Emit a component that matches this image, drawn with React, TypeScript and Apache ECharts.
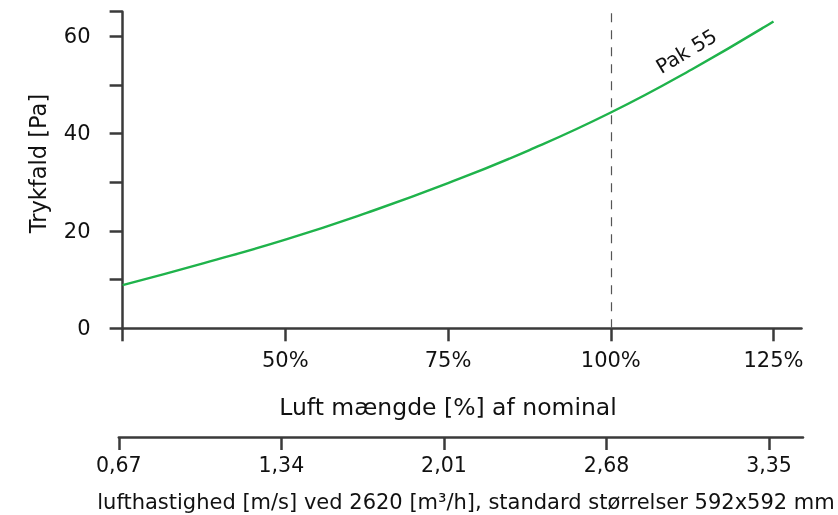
import React, { useEffect, useRef } from "react";
import * as echarts from "echarts";

// Luft mængde [%] af nominal
const flowPercent = [25, 37.5, 50, 62.5, 75, 87.5, 100, 112.5, 125];
// Trykfald [Pa]
const pressureDrop = [8.85, 13.4, 18.2, 23.7, 29.8, 36.6, 44.3, 53.2, 63.0];
const seriesName = "Pak 55";
const seriesLabelAt = [111.6, 56.9];
const nominalPercent = 100;
// lufthastighed axis ticks
const velocityTicks = [0.67, 1.34, 2.01, 2.68, 3.35];

const yTitle = "Trykfald [Pa]";
const xTitle = "Luft mængde [%] af nominal";
const x2Title = "lufthastighed [m/s] ved 2620 [m³/h], standard størrelser 592x592 mm";

const FONT = "'DejaVu Sans', 'Open Sans', sans-serif";
const TXT = "#111";
const AX = "#3a3a3a";

export default function App() {
  const ref = useRef<HTMLDivElement>(null);
  useEffect(() => {
    if (!ref.current) return;
    const chart = echarts.init(ref.current, null, { renderer: "svg" });
    const axisLineStyle = { color: AX, width: 2.5 };
    chart.setOption({
      animation: false,
      textStyle: { fontFamily: FONT },
      grid: [
        { left: 122.6, right: 36.5, top: 11.7, bottom: 186.7 },
        { left: 118.8, right: 35, top: 400, bottom: 78 },
      ],
      xAxis: [
        {
          type: "value",
          gridIndex: 0,
          min: 25,
          max: 129.3,
          interval: 25,
          axisLine: { show: true, lineStyle: axisLineStyle },
          axisTick: { show: true, length: 13, lineStyle: axisLineStyle },
          splitLine: { show: false },
          axisLabel: {
            margin: 21,
            fontSize: 21,
            color: TXT,
            fontFamily: FONT,
            formatter: (v: number) => (v === 25 ? "" : v + "%"),
          },
        },
        {
          type: "value",
          gridIndex: 1,
          min: velocityTicks[0],
          max: 3.49,
          interval: velocityTicks[1] - velocityTicks[0],
          axisLine: { show: true, lineStyle: axisLineStyle },
          axisTick: { show: true, length: 13, lineStyle: axisLineStyle },
          splitLine: { show: false },
          axisLabel: {
            margin: 17,
            fontSize: 20.5,
            color: TXT,
            fontFamily: FONT,
            showMaxLabel: false,
            formatter: (v: number) => v.toFixed(2).replace(".", ","),
          },
        },
      ],
      yAxis: [
        {
          type: "value",
          gridIndex: 0,
          min: 0,
          max: 65,
          interval: 10,
          axisLine: { show: true, lineStyle: axisLineStyle },
          axisTick: { show: true, length: 13, lineStyle: axisLineStyle },
          splitLine: { show: false },
          axisLabel: {
            margin: 32,
            fontSize: 21,
            color: TXT,
            fontFamily: FONT,
            formatter: (v: number) => (v % 20 === 0 ? String(v) : ""),
          },
        },
        {
          type: "value",
          gridIndex: 1,
          show: false,
          min: 0,
          max: 1,
        },
      ],
      series: [
        {
          name: seriesName,
          type: "line",
          xAxisIndex: 0,
          yAxisIndex: 0,
          data: flowPercent.map((x, i) => [x, pressureDrop[i]]),
          smooth: true,
          showSymbol: false,
          symbol: "none",
          lineStyle: { color: "#1fb34b", width: 2.4 },
          markLine: {
            silent: true,
            symbol: "none",
            label: { show: false },
            lineStyle: { color: "#555", width: 1.2, type: [9, 8] },
            data: [{ xAxis: nominalPercent }],
          },
          markPoint: {
            silent: true,
            symbolSize: 0,
            data: [
              {
                coord: seriesLabelAt,
                label: {
                  show: true,
                  formatter: seriesName,
                  position: "inside",
                  rotate: 31,
                  fontSize: 20,
                  color: TXT,
                  fontFamily: FONT,
                },
              },
            ],
          },
        },
        {
          type: "line",
          xAxisIndex: 1,
          yAxisIndex: 1,
          data: [],
        },
      ],
      graphic: [
        {
          type: "text",
          x: 38,
          y: 163.5,
          rotation: Math.PI / 2,
          style: {
            text: yTitle,
            fontSize: 22.5,
            fontFamily: FONT,
            fill: TXT,
            align: "center",
            verticalAlign: "middle",
          },
        },
        {
          type: "text",
          x: 448,
          y: 407,
          style: {
            text: xTitle,
            fontSize: 23.5,
            fontFamily: FONT,
            fill: TXT,
            align: "center",
            verticalAlign: "middle",
          },
        },
        {
          type: "text",
          x: 466,
          y: 502,
          style: {
            text: x2Title,
            fontSize: 21,
            fontFamily: FONT,
            fill: TXT,
            align: "center",
            verticalAlign: "middle",
          },
        },
      ],
    });
    return () => chart.dispose();
  }, []);
  return (
    <div
      ref={ref}
      style={{ position: "fixed", left: 0, top: 0, width: 838, height: 515 }}
    />
  );
}
